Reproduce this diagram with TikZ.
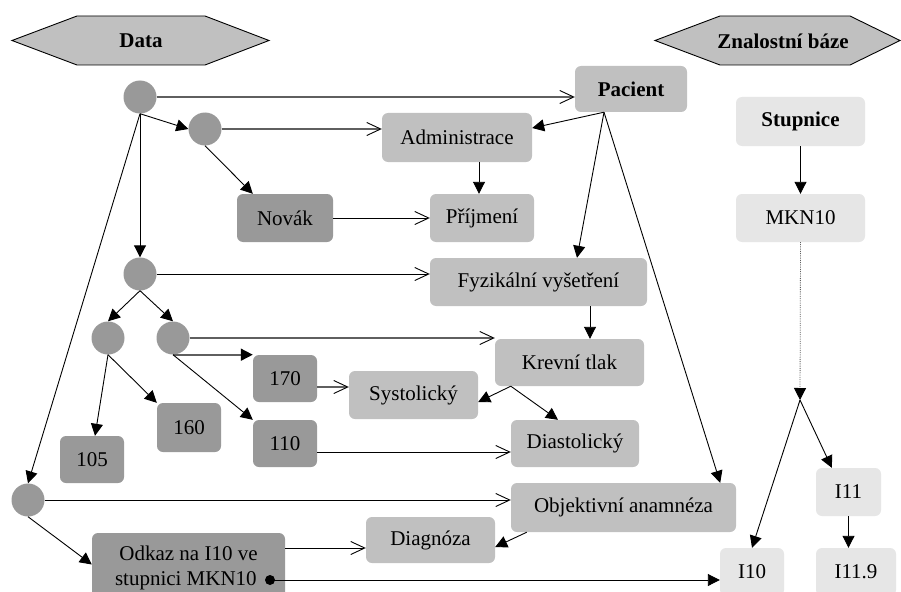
\documentclass[tikz,border=0pt]{standalone}
\usepackage{fontspec}
\setmainfont{Liberation Serif}
\usetikzlibrary{arrows.meta}
\definecolor{cdark}{HTML}{999999}
\definecolor{cmid}{HTML}{C0C0C0}
\definecolor{clight}{HTML}{E6E6E6}
\definecolor{cline}{HTML}{5F5F5F}
\tikzset{
  box/.style={rectangle, rounded corners=6pt, inner sep=0pt, font=\fontsize{21}{25}\selectfont, text=black},
  dbox/.style={box, fill=cdark},
  mbox/.style={box, fill=cmid},
  lbox/.style={box, fill=clight},
  dot/.style={circle, fill=cdark, minimum size=33pt, inner sep=0pt},
  farr/.style={draw=black, line width=0.9pt, -{Triangle[length=12pt,width=12pt]}},
  oarr/.style={draw=black, line width=0.9pt, -{Straight Barb[length=14pt,width=13pt,line width=0.9pt]}},
  garr/.style={draw=cline, line width=1.6pt, -{Straight Barb[length=14pt,width=13pt,line width=0.9pt,color=black]}},
  gfarr/.style={draw=cline, line width=1.6pt, -{Triangle[length=12pt,width=12pt,color=black]}},
  hexa/.style={draw=black, line width=0.9pt, fill=cmid},
}
\begin{document}
\begin{tikzpicture}[x=1pt,y=-1pt]
\useasboundingbox (0,0) rectangle (901,591);
\clip (0,0) rectangle (901,591);
\fill[white] (0,0) rectangle (901,591);
% hexagons
\draw[hexa] (12,40.5) -- (77,16) -- (205,16) -- (269,40.5) -- (205,65) -- (77,65) -- cycle;
\node[font=\fontsize{21}{25}\selectfont\bfseries] (hdata) at (141,41) {Data};
\draw[hexa] (655,40.5) -- (720,16) -- (850,16) -- (900,40.5) -- (850,65) -- (720,65) -- cycle;
\node[font=\fontsize{21}{25}\selectfont\bfseries] (hzn) at (783,41) {Znalostní báze};
% circles
\node[dot] (c1) at (140,97) {};
\node[dot] (c2) at (205,129) {};
\node[dot] (c3) at (140,274) {};
\node[dot] (c4) at (108,338) {};
\node[dot] (c5) at (173,338) {};
\node[dot] (c6) at (28,500) {};
% boxes
\node[mbox, minimum width=112pt, minimum height=46pt, font=\fontsize{21}{25}\selectfont\bfseries] (pac) at (631,89) {Pacient};
\node[mbox, minimum width=150pt, minimum height=49pt] (adm) at (457,137.5) {Administrace};
\node[mbox, minimum width=104pt, minimum height=48pt] (prij) at (482,218) {Příjmení};
\node[dbox, minimum width=96pt, minimum height=48pt] (novak) at (285,218) {Novák};
\node[mbox, minimum width=217pt, minimum height=48pt] (fyz) at (538.5,282) {Fyzikální vyšetření};
\node[mbox, minimum width=149pt, minimum height=47pt] (krev) at (569.5,362.5) {Krevní tlak};
\node[mbox, minimum width=129pt, minimum height=48pt] (sys) at (413.5,395) {Systolický};
\node[mbox, minimum width=128pt, minimum height=47pt] (dia) at (575,443.5) {Diastolický};
\node[dbox, minimum width=64pt, minimum height=47pt] (n170) at (285,378.5) {170};
\node[dbox, minimum width=64pt, minimum height=49pt] (n160) at (189,427.5) {160};
\node[dbox, minimum width=64pt, minimum height=47pt] (n110) at (285,443.5) {110};
\node[dbox, minimum width=64pt, minimum height=47pt] (n105) at (92,459.5) {105};
\node[mbox, minimum width=225pt, minimum height=49pt] (obj) at (623.5,507.5) {Objektivní anamnéza};
\node[mbox, minimum width=129pt, minimum height=46pt] (diag) at (430.5,540) {Diagnóza};
\node[dbox, minimum width=193pt, minimum height=69pt, align=center] (odkaz) at (188.5,567.5) {Odkaz na I10 ve\\stupnici MKN10\phantom{.}};
\node[lbox, minimum width=129pt, minimum height=49pt, font=\fontsize{21}{25}\selectfont\bfseries] (stup) at (800.5,121.5) {Stupnice};
\node[lbox, minimum width=129pt, minimum height=48pt] (mkn) at (800.5,218) {MKN10};
\node[lbox, minimum width=65pt, minimum height=48pt] (i11) at (848.5,492) {I11};
\node[lbox, minimum width=64pt, minimum height=48pt] (i10) at (752,572) {I10};
\node[lbox, minimum width=80pt, minimum height=48pt] (i119) at (856,572) {I11.9};
\coordinate (j) at (800,400);
\coordinate (odot) at (270,580);
% helper coordinates
\path ([xshift=-27pt]pac.south) coordinate (pfoot);
\path ([xshift=16pt]krev.south west) coordinate (kfoot);
\path ([xshift=16pt]obj.south west) coordinate (ofoot);
\path ([xshift=51.5pt]fyz.south) coordinate (ffoot);
\path ([xshift=-3pt]prij.north |- adm.south) coordinate (afoot);
\path ([yshift=19.5pt]odkaz.east) coordinate (od1);
\path ([yshift=-8.5pt]n170.east) coordinate (s1);
\path ([yshift=-8.5pt]n110.east) coordinate (s2);
% connectors from circles
\draw[garr] (c1.east) -- (c1 -| pac.west);
\draw[farr] (c1.south) -- (c2.west);
\draw[farr] (c1.south) -- (c3.north);
\draw[farr] (c1.south) -- (c6.north);
\draw[garr] (c2.east) -- (c2 -| adm.west);
\draw[farr] (c2.south) -- ([xshift=16pt]novak.north west);
\draw[oarr] (c3.east) -- (c3 -| fyz.west);
\draw[farr] (c3.south) -- (c4.north);
\draw[farr] (c3.south) -- (c5.north);
\draw[garr] (c5.east) -- (c5 -| krev.west);
\draw[gfarr] (c5.south) -- (c5.south -| n170.west);
\draw[farr] (c5.south) -- (n110.north west);
\draw[farr] (c4.south) -- ([xshift=3pt]n105.north);
\draw[farr] (c4.south) -- (n160.north west);
\draw[oarr] (c6.east) -- (c6 -| obj.west);
\draw[farr] (c6.south) -- ([yshift=3pt]odkaz.west);
% connectors between boxes
\draw[farr] (pfoot) -- ([yshift=9.5pt]adm.east);
\draw[farr] (pfoot) -- ([xshift=38.5pt]fyz.north);
\draw[farr] (pfoot) -- ([xshift=-16pt]obj.north east);
\draw[farr] (afoot) -- ([xshift=-3pt]prij.north);
\draw[oarr] (novak.east) -- (prij.west);
\draw[farr] (ffoot) -- (ffoot |- krev.north);
\draw[garr] (s1) -- (s1 -| sys.west);
\draw[farr] (kfoot) -- ([yshift=-7pt]sys.east);
\draw[farr] (kfoot) -- ([xshift=-17pt]dia.north);
\draw[oarr] (s2) -- (s2 -| dia.west);
\draw[oarr] (od1) -- (od1 -| diag.west);
\draw[farr] (ofoot) -- ([yshift=-7pt]diag.east);
\draw[farr] (odot) -- (odot -| i10.west);
\fill[black] (odot) circle (5pt);
% knowledge base
\draw[farr] (stup.south) -- (mkn.north);
\draw[draw=cline, line width=0.8pt, densely dotted, -{Triangle[length=12pt,width=12pt,color=black]}] (mkn.south) -- (j);
\draw[farr] (j) -- (i10.north);
\draw[farr] (j) -- ([xshift=16pt]i11.north west);
\draw[farr] (i11.south) -- (i11.south |- i119.north);
\end{tikzpicture}
\end{document}
